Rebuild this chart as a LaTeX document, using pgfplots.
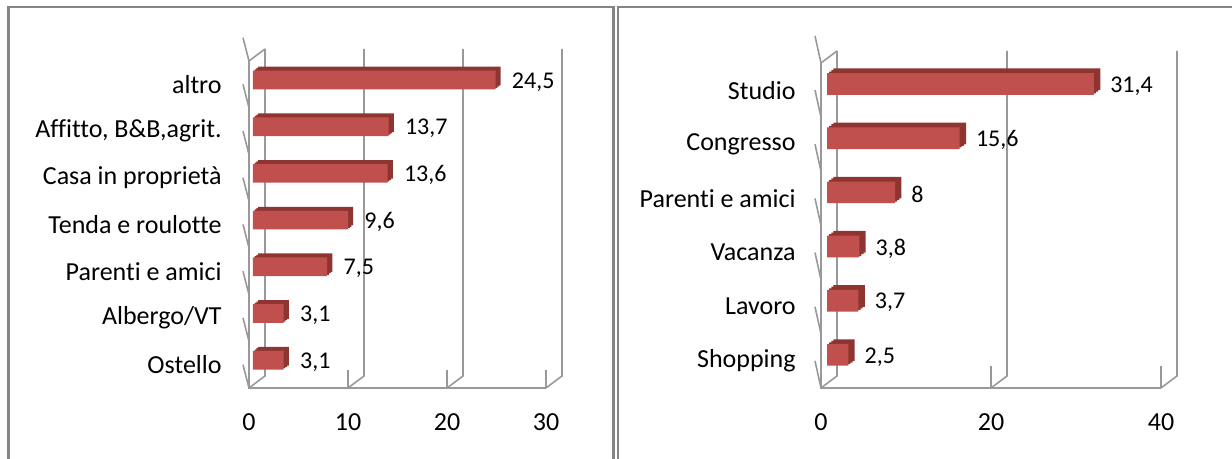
\documentclass[border=0pt]{standalone}
\usepackage{pgfplots}
\pgfplotsset{compat=1.18}
\usepackage{pgfplotstable}
\usepackage{fontspec}
\setmainfont{Carlito}[Ligatures=NoCommon]
\definecolor{barfront}{HTML}{C0504D}
\definecolor{barside}{HTML}{8E3532}
\definecolor{wallc}{HTML}{999999}
\definecolor{framec}{HTML}{858585}

\pgfplotstableread{
y val lab
0 3.1 3,1
1 3.1 3,1
2 7.5 7,5
3 9.6 9,6
4 13.6 13,6
5 13.7 13,7
6 24.5 24,5
}\lefttab

\pgfplotstableread{
y val lab
0 2.5 2,5
1 3.7 3,7
2 3.8 3,8
3 8 8
4 15.6 15,6
5 31.4 31,4
}\righttab

\tikzset{wall/.style={draw=wallc, line width=0.8pt}}

\pgfplotsset{
  panel/.style={
    scale only axis, clip=false,
    axis line style={draw=none},
    major tick length=0pt, tick style={draw=none},
    xbar, bar width=0.4,
    every axis plot/.append style={bar shift=0pt},
    xticklabel style={font=\fontsize{13}{15}\selectfont, anchor=north, inner sep=0pt, yshift=-12.5pt},
    yticklabel style={font=\fontsize{13}{15}\selectfont, anchor=east, inner sep=0pt},
    /pgf/number format/assume math mode=true,
  },
}

\newcommand{\walls}[4]{%
  \draw[wall] (axis cs:0,#3) -- (axis cs:0,#2) -- (axis cs:#1,#2);
  \draw[wall] (axis cs:0,#3) -- ++(8pt,6pt);
  \draw[wall] ([shift={(8pt,6pt)}]axis cs:0,#2) -- ([shift={(8pt,6pt)}]axis cs:0,#3);
  \pgfplotsinvokeforeach{#4}{
    \draw[wall] (axis cs:##1,#2) -- ++(8pt,6pt) -- ([shift={(8pt,6pt)}]axis cs:##1,#3);
    \draw[wall] (axis cs:##1,#2) -- ++(0,-2.5pt);
  }
}

\begin{document}
\begin{tikzpicture}
\path[use as bounding box] (0,0) rectangle (616pt,229.5pt);
\draw[framec, line width=1.3pt] (4.3pt,-5pt) -- (4.3pt,226pt) -- (306.8pt,226pt) -- (306.8pt,-5pt);
\draw[framec, line width=1.3pt] (309pt,-5pt) -- (309pt,226pt) -- (620pt,226pt);

% Left panel
\begin{axis}[panel,
  at={(124.5pt,35.5pt)}, anchor=south west,
  width=148.5pt, height=163.5pt,
  xmin=0, xmax=30, ymin=-0.5, ymax=6.5,
  xtick={0,10,20,30},
  ytick={0,1,2,3,4,5,6},
  yticklabels={Ostello, Albergo/VT, Parenti e amici, Tenda e roulotte, Casa in proprietà, {Affitto, B\&B,agrit.}, altro},
  yticklabel style={xshift=-13.5pt},
]
\walls{30}{-0.5}{6.5}{0,10,20,30}
\pgfplotsinvokeforeach{-0.5,0.5,1.5,2.5,3.5,4.5,5.5,6.5}{
  \draw[wall] (axis cs:0,#1) -- ++(-3pt,0);
}
\addplot[fill=barside, draw=none, bar shift=0pt, xshift=4.6pt, yshift=4.2pt] table[x=val, y=y] {\lefttab};
\addplot[fill=barside, draw=none, bar shift=0pt, xshift=3.73pt, yshift=3.53pt] table[x=val, y=y] {\lefttab};
\addplot[fill=barside, draw=none, bar shift=0pt, xshift=2.87pt, yshift=2.87pt] table[x=val, y=y] {\lefttab};
\addplot[fill=barfront, draw=none, bar shift=0pt, xshift=2pt, yshift=2.2pt,
  point meta=explicit symbolic, nodes near coords,
  every node near coord/.append style={anchor=west, inner sep=0pt, xshift=8pt, yshift=-1pt, font=\fontsize{12}{14}\selectfont, text=black}]
  table[x=val, y=y, meta=lab] {\lefttab};
\end{axis}

% Right panel
\begin{axis}[panel,
  at={(410.5pt,35.5pt)}, anchor=south west,
  width=170pt, height=162.5pt,
  xmin=0, xmax=40, ymin=-0.5, ymax=5.5,
  xtick={0,20,40},
  ytick={0,1,2,3,4,5},
  yticklabels={Shopping, Lavoro, Vacanza, Parenti e amici, Congresso, Studio},
  yticklabel style={xshift=-12.5pt},
]
\walls{40}{-0.5}{5.5}{0,20,40}
\pgfplotsinvokeforeach{-0.5,0.5,1.5,2.5,3.5,4.5,5.5}{
  \draw[wall] (axis cs:0,#1) -- ++(-3pt,0);
}
\addplot[fill=barside, draw=none, bar shift=0pt, xshift=6.2pt, yshift=5.4pt] table[x=val, y=y] {\righttab};
\addplot[fill=barside, draw=none, bar shift=0pt, xshift=5.13pt, yshift=4.6pt] table[x=val, y=y] {\righttab};
\addplot[fill=barside, draw=none, bar shift=0pt, xshift=4.07pt, yshift=3.8pt] table[x=val, y=y] {\righttab};
\addplot[fill=barfront, draw=none, bar shift=0pt, xshift=3pt, yshift=3pt,
  point meta=explicit symbolic, nodes near coords,
  every node near coord/.append style={anchor=west, inner sep=0pt, xshift=8pt, yshift=-1pt, font=\fontsize{12}{14}\selectfont, text=black}]
  table[x=val, y=y, meta=lab] {\righttab};
\end{axis}
\end{tikzpicture}
\end{document}
